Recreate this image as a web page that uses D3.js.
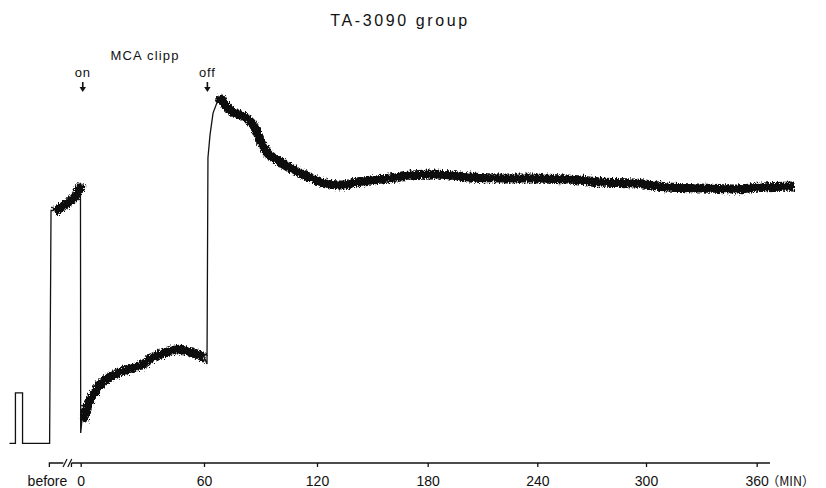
<!DOCTYPE html>
<html>
<head>
<meta charset="utf-8">
<script src="https://cdn.jsdelivr.net/npm/d3@7"></script>
<style>
  body { margin: 0; background: #fff; }
  svg text { font-family: "Liberation Sans", Arial, sans-serif; fill: #111; }
</style>
</head>
<body>
<div id="chart"></div>
<script>
// time in minutes, negative = "before" recording; value = flow, % of control
var traceTime = [
  -30, -27.5, -27.5, -24.5, -24.5, -13.1,
  -12.5, -11.7, -8.7, -5.4, -2.4, -0.1,
  0, 0.6, 2.6, 4.5, 9.4, 14.3, 19.1, 24, 28.9, 33.7, 38.6, 45.9, 53.2, 60, 61.6,
  62.1, 63.2, 64.8, 66.9, 68.5, 71.2, 74.9, 81.8, 85.5, 88.7, 92.4, 97.7,
  105.7, 113.6, 121.6, 132.5, 140.6, 154.2, 170.4, 182.9, 201.5, 219.6,
  237.6, 256.4, 274.6, 292.8, 311.4, 329.3, 347.2, 361.8, 379.7
];
var traceValue = [
  0, 0, 21, 21, 0, 0,
  97, 97, 99, 101, 104, 108.5,
  4.3, 9.7, 16, 19.3, 25.5, 28.5, 30.5, 31.8, 33, 36, 37.6, 39.7, 38.5, 36, 33,
  119, 128.5, 137.6, 142, 143.9, 140.5, 138.5, 136, 133, 127.6, 122, 118.9,
  115, 112, 109.3, 108, 109.3, 110.5, 112.2, 112.6, 111.4, 111,
  111, 110.5, 109.3, 108.9, 107.2, 106.8, 106.4, 107.2, 107.6
];
// stretches of the record where the pen trace is a noisy band
var noisySpans = [[-12.3, -0.1], [0.6, 61.0], [66.9, 379.7]];

var tickValues = [0, 60, 120, 180, 240, 300, 360];
var markerLabels = ['on', 'off'];
var markerTimes = [1, 61.8];
var title = 'TA-3090 group';
var eventLabel = 'MCA clipp';

var width = 826;
var height = 488;

var svg = d3.select('#chart')
  .append('svg')
  .attr('width', width)
  .attr('height', height);

var defs = svg.append('defs');
var rough = defs.append('filter')
  .attr('id', 'rough')
  .attr('filterUnits', 'userSpaceOnUse')
  .attr('x', 0).attr('y', 0)
  .attr('width', width).attr('height', height);
rough.append('feTurbulence')
  .attr('type', 'turbulence')
  .attr('baseFrequency', '1.4 0.25')
  .attr('numOctaves', 2)
  .attr('seed', 7)
  .attr('result', 'noise');
rough.append('feDisplacementMap')
  .attr('in', 'SourceGraphic')
  .attr('in2', 'noise')
  .attr('scale', 5)
  .attr('xChannelSelector', 'R')
  .attr('yChannelSelector', 'G');

// the paper axis is not evenly spaced, so the scale is piecewise
var x = d3.scaleLinear()
  .domain([-30, 0, 60, 120, 180, 240, 300, 360])
  .range([9.5, 80.7, 204, 317, 427.7, 537.3, 646, 756.7]);

var y = d3.scaleLinear()
  .domain([0, 100])
  .range([443.3, 203.3]);

var points = traceTime.map(function(t, i) {
  return { t: t, v: traceValue[i] };
});

var line = d3.line()
  .x(function(d) { return x(d.t); })
  .y(function(d) { return y(d.v); })
  .curve(d3.curveMonotoneX);

var straight = d3.line()
  .x(function(d) { return x(d.t); })
  .y(function(d) { return y(d.v); });

// thin pen line
svg.append('path')
  .attr('d', straight(points))
  .attr('fill', 'none')
  .attr('stroke', '#111')
  .attr('stroke-width', 1.3);

// noisy bands
noisySpans.forEach(function(span) {
  var seg = points.filter(function(d) { return d.t >= span[0] && d.t <= span[1]; });
  svg.append('path')
    .attr('d', line(seg))
    .attr('fill', 'none')
    .attr('stroke', '#111')
    .attr('stroke-width', 9)
    .attr('stroke-linejoin', 'round')
    .attr('stroke-linecap', 'butt')
    .attr('filter', 'url(#rough)');
});

// axis
var axisY = 463;
var axis = svg.append('g')
  .attr('transform', 'translate(0,' + axisY + ')')
  .call(d3.axisBottom(x)
    .tickValues(tickValues)
    .tickSize(4)
    .tickSizeOuter(0)
    .tickPadding(9));
axis.select('.domain').remove();
axis.selectAll('.tick line').attr('stroke', '#111').attr('stroke-width', 1.3);
axis.selectAll('.tick text')
  .attr('font-size', 14)
  .style('fill', '#111');

axis.append('line')
  .attr('x1', x(-3.9)).attr('x2', x(367.2))
  .attr('y1', 0).attr('y2', 0)
  .attr('stroke', '#111').attr('stroke-width', 1.6);
axis.append('line')
  .attr('x1', x(-3.9)).attr('x2', x(-3.9))
  .attr('y1', 0).attr('y2', 4)
  .attr('stroke', '#111').attr('stroke-width', 1.3);

// "before" stub with break marks
axis.append('path')
  .attr('d', 'M' + x(-13.2) + ',4V0H' + x(-7.3))
  .attr('fill', 'none')
  .attr('stroke', '#111').attr('stroke-width', 1.3);
[-6.6, -4.6].forEach(function(t) {
  axis.append('line')
    .attr('x1', x(t) - 2).attr('x2', x(t) + 2)
    .attr('y1', 4).attr('y2', -4)
    .attr('stroke', '#111').attr('stroke-width', 1.2);
});
axis.append('text')
  .attr('x', x(-14))
  .attr('y', 23)
  .attr('text-anchor', 'middle')
  .attr('font-size', 14)
  .text('before');
axis.append('text')
  .attr('x', x(360) + 10)
  .attr('y', 23)
  .attr('text-anchor', 'start')
  .attr('font-size', 12.5)
  .style('font-family', '"Noto Sans CJK JP", sans-serif')
  .text('（MIN）');

// title
svg.append('text')
  .attr('x', 400)
  .attr('y', 26)
  .attr('text-anchor', 'middle')
  .attr('font-size', 16)
  .attr('letter-spacing', 2.6)
  .text(title);

// event labels
svg.append('text')
  .attr('x', (x(markerTimes[0]) + x(markerTimes[1])) / 2)
  .attr('y', 60)
  .attr('text-anchor', 'middle')
  .attr('font-size', 13)
  .attr('letter-spacing', 1.2)
  .text(eventLabel);

markerLabels.forEach(function(label, i) {
  var mx = x(markerTimes[i]);
  svg.append('text')
    .attr('x', mx)
    .attr('y', 77)
    .attr('text-anchor', 'middle')
    .attr('font-size', 13)
    .attr('letter-spacing', 0.8)
    .text(label);
  svg.append('line')
    .attr('x1', mx).attr('x2', mx)
    .attr('y1', 82).attr('y2', 88)
    .attr('stroke', '#111').attr('stroke-width', 1.6);
  svg.append('path')
    .attr('d', 'M' + (mx - 3.2) + ',87L' + (mx + 3.2) + ',87L' + mx + ',92Z')
    .attr('fill', '#111');
});
</script>
</body>
</html>
